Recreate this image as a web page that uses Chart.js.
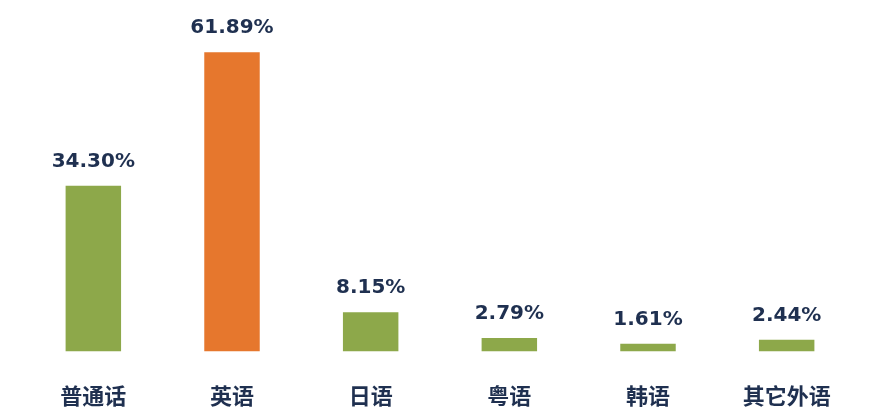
<!DOCTYPE html>
<html>
<head>
<meta charset="utf-8">
<script src="https://cdn.jsdelivr.net/npm/chart.js@4"></script>
<style>
  html, body { margin: 0; padding: 0; background: #fff; }
  #wrap { width: 880px; height: 418px; }
</style>
</head>
<body>
<div id="wrap"><canvas id="chart"></canvas></div>
<script>
// language share data
const categories = ['普通话', '英语', '日语', '粤语', '韩语', '其它外语'];
const shares = [34.30, 61.89, 8.15, 2.79, 1.61, 2.44];
const barColors = ['#8DA84A', '#E6772D', '#8DA84A', '#8DA84A', '#8DA84A', '#8DA84A'];

// draw the percentage above each bar
const valueLabels = {
  id: 'valueLabels',
  afterDatasetsDraw(chart) {
    const ctx = chart.ctx;
    const meta = chart.getDatasetMeta(0);
    ctx.save();
    ctx.font = 'bold 20px "DejaVu Sans", Verdana, sans-serif';
    ctx.fillStyle = '#1F3050';
    ctx.textAlign = 'center';
    ctx.textBaseline = 'bottom';
    meta.data.forEach((bar, i) => {
      ctx.fillText(shares[i].toFixed(2) + '%', bar.x, bar.y - 14);
    });
    ctx.restore();
  }
};

new Chart(document.getElementById('chart'), {
  type: 'bar',
  data: {
    labels: categories,
    datasets: [{
      data: shares,
      backgroundColor: barColors,
      barPercentage: 0.4,
      categoryPercentage: 1
    }]
  },
  options: {
    responsive: true,
    maintainAspectRatio: false,
    animation: false,
    layout: { padding: { left: 24, right: 24, top: 13, bottom: -22 } },
    plugins: {
      legend: { display: false },
      tooltip: { enabled: false }
    },
    scales: {
      x: {
        grid: { display: false, drawTicks: false },
        border: { display: false },
        ticks: {
          color: '#1F3050',
          padding: 31,
          font: { family: '"Noto Sans CJK SC", sans-serif', size: 22, weight: 'bold' }
        }
      },
      y: {
        display: false,
        min: 0,
        max: 70
      }
    }
  },
  plugins: [valueLabels]
});
</script>
</body>
</html>
